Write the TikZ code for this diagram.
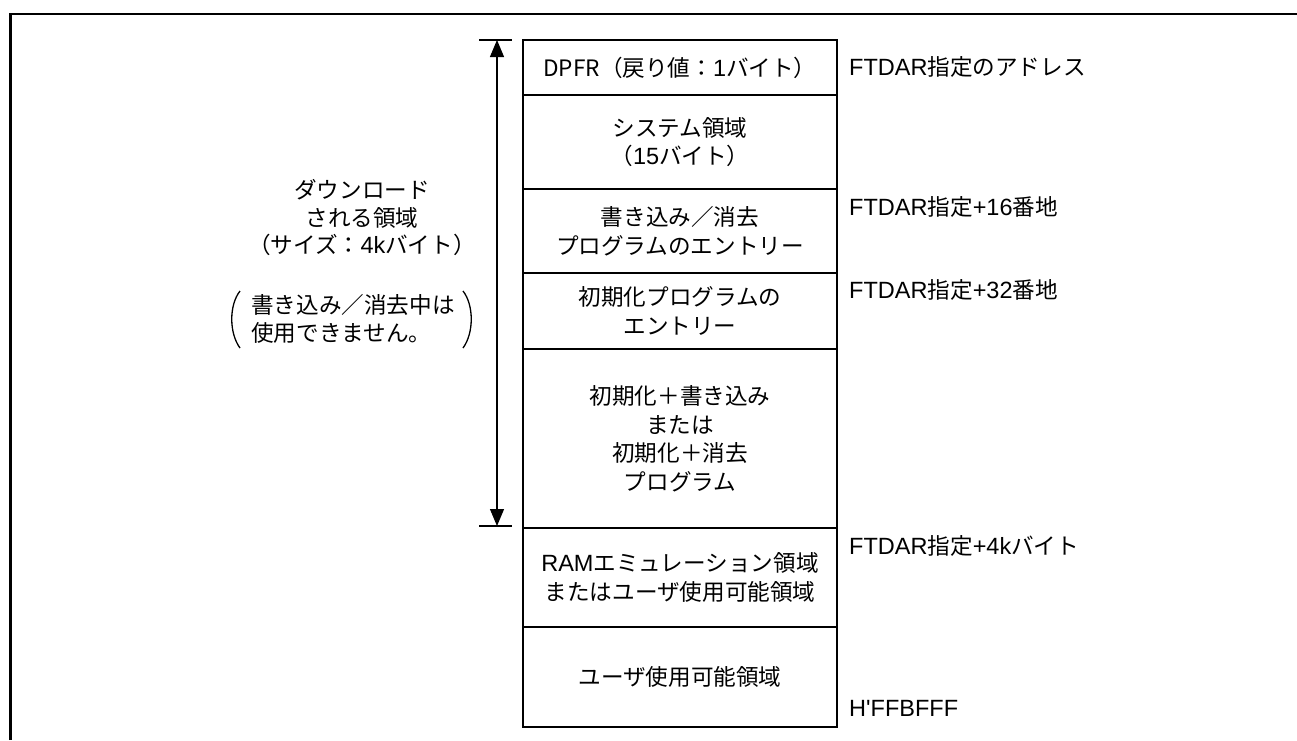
\documentclass[tikz,border=0pt]{standalone}
\usepackage{fontspec}
\setmainfont{Noto Sans CJK JP}
\newfontfamily\lat[Scale=1.04]{Liberation Sans}
\usetikzlibrary{arrows.meta}
\tikzset{
  rowbox/.style={draw, line width=2.4pt, minimum width=314pt, inner sep=0pt, align=center, font=\fontsize{22.6}{28.5}\selectfont, anchor=north},
  addr/.style={anchor=west, inner sep=0pt, font=\fontsize{22.6}{28}\selectfont},
  note/.style={inner sep=0pt, align=center, font=\fontsize{22.6}{27.5}\selectfont},
  frameline/.style={line width=2.8pt},
  tickline/.style={line width=1.1pt},
  dimarrow/.style={line width=1.1pt, {Triangle[width=14pt,length=17pt]}-{Triangle[width=14pt,length=17pt]}},
  paren/.style={line width=1.3pt}
}
\begin{document}
\begin{tikzpicture}[x=1pt,y=-1pt]
\useasboundingbox (0,0) rectangle (1297,740);
\fill[white] (0,0) rectangle (1297,740);
% outer frame (top and left visible)
\draw[frameline] (10.5,740) -- (10.5,14) -- (1297,14);
% memory rows
\node[rowbox, minimum height=55.5pt] (r1) at (680,38.5) {DPFR（戻り値：{\lat 1}バイト）};
\node[rowbox, minimum height=94pt] (r2) at (680,94) {システム領域\\（{\lat 15}バイト）};
\node[rowbox, minimum height=84pt] (r3) at (680,188) {書き込み／消去\\プログラムのエントリー};
\node[rowbox, minimum height=76pt] (r4) at (680,272) {初期化プログラムの\\エントリー};
\node[rowbox, minimum height=179pt] (r5) at (680,348) {初期化＋書き込み\\または\\初期化＋消去\\プログラム};
\node[rowbox, minimum height=99pt] (r6) at (680,527) {{\lat RAM}エミュレーション領域\\またはユーザ使用可能領域};
\node[rowbox, minimum height=100pt] (r7) at (680,626) {\raisebox{-7pt}{ユーザ使用可能領域}};
% address labels
\node[addr] (a1) at (849,67) {{\lat FTDAR}指定のアドレス};
\node[addr] (a2) at (849,207) {{\lat FTDAR}指定{\lat +16}番地};
\node[addr] (a3) at (849,290) {{\lat FTDAR}指定{\lat +32}番地};
\node[addr] (a4) at (849,546) {{\lat FTDAR}指定{\lat +4k}バイト};
\node[addr] (a5) at (849,708) {\lat H'FFBFFF};
% dimension arrow
\coordinate (tl) at (479,40);
\coordinate (tr) at (512,40);
\coordinate (bl) at (479,526);
\coordinate (br) at (512,526);
\coordinate (at) at (497,40);
\coordinate (ab) at (497,526);
\draw[tickline] (tl) -- (tr);
\draw[tickline] (bl) -- (br);
\draw[dimarrow] (at) -- (ab);
% left notes
\node[note] (n1) at (362,218) {ダウンロード\\される領域\\（サイズ：{\lat 4k}バイト）};
\node[note, align=left] (n2) at (353,319) {書き込み／消去中は\\使用できません。};
\draw[paren] (240,291) .. controls (229,305) and (229,333) .. (240,348);
\draw[paren] (463,291) .. controls (474,305) and (474,333) .. (463,348);
\end{tikzpicture}
\end{document}
